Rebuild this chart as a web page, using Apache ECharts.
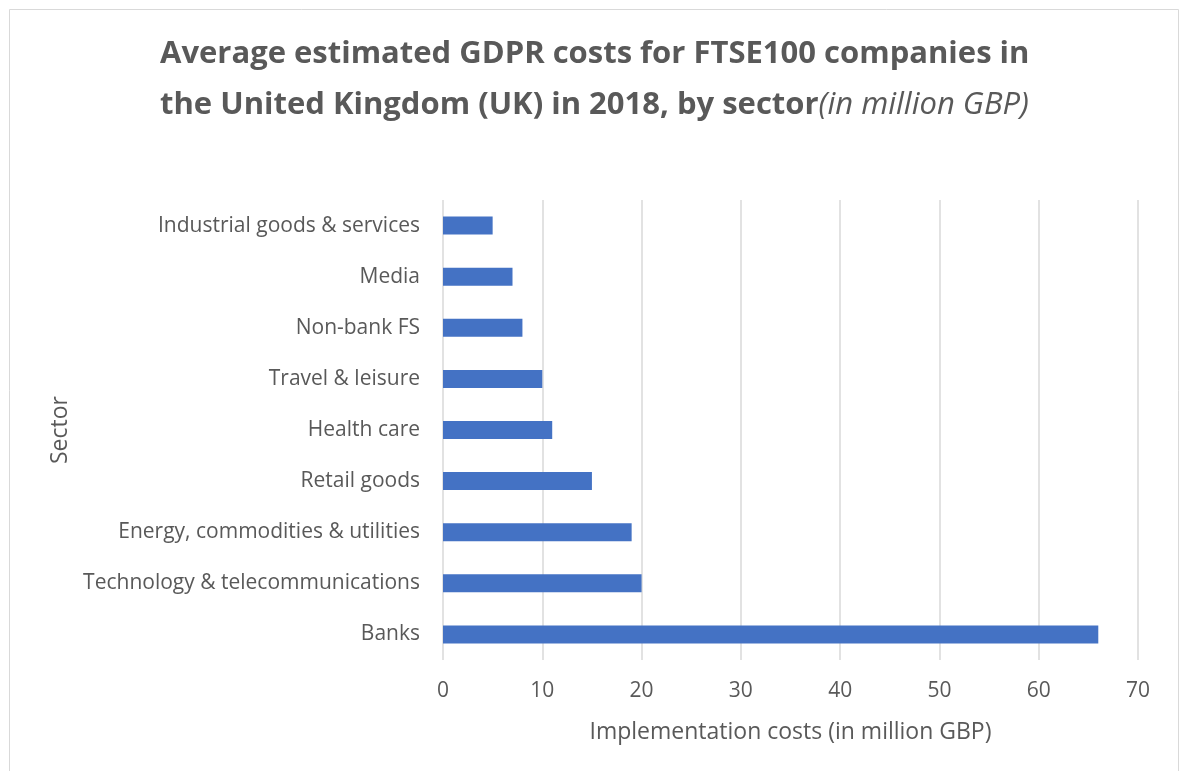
<!DOCTYPE html>
<html>
<head>
<meta charset="utf-8">
<script src="https://cdn.jsdelivr.net/npm/echarts@6/dist/echarts.min.js"></script>
<style>
  html, body { margin: 0; padding: 0; background: #ffffff; }
  #chart { width: 1180px; height: 771px; }
</style>
</head>
<body>
<div id="chart"></div>
<script>
// Sectors listed top to bottom
const sectors = [
  'Industrial goods & services',
  'Media',
  'Non-bank FS',
  'Travel & leisure',
  'Health care',
  'Retail goods',
  'Energy, commodities & utilities',
  'Technology & telecommunications',
  'Banks'
];
// Average implementation cost per sector, million GBP
const costs = [5, 7, 8, 10, 11, 15, 19, 20, 66];
const xTicks = [0, 10, 20, 30, 40, 50, 60, 70];

const textGray = '#595959';
const gridGray = '#d9d9d9';
const font = '"Open Sans", Lato, sans-serif';

const chart = echarts.init(document.getElementById('chart'));
chart.setOption({
  backgroundColor: '#ffffff',
  animation: false,
  graphic: [{
    type: 'rect',
    shape: { x: 9.5, y: 9.5, width: 1169, height: 800 },
    style: { fill: 'none', stroke: gridGray, lineWidth: 1 },
    silent: true
  }],
  title: {
    left: 155,
    top: 24,
    textAlign: 'left',
    text: '{b|Average estimated GDPR costs for FTSE100 companies in}\n{b|the United Kingdom (UK) in 2018, by sector}{i|(in million GBP)}',
    textStyle: {
      align: 'center',
      rich: {
        b: { fontFamily: font, fontSize: 31, fontWeight: 'bold', color: textGray, lineHeight: 51 },
        i: { fontFamily: font, fontSize: 31, fontStyle: 'italic', fontWeight: 'normal', color: textGray, lineHeight: 51 }
      }
    }
  },
  grid: { left: 443, right: 42, top: 200, bottom: 111 },
  xAxis: {
    type: 'value',
    min: xTicks[0],
    max: xTicks[xTicks.length - 1],
    interval: 10,
    name: 'Implementation costs (in million GBP)',
    nameLocation: 'middle',
    nameGap: 61,
    nameTextStyle: { fontFamily: font, fontSize: 23, color: textGray },
    axisLine: { show: false },
    axisTick: { show: false },
    axisLabel: { fontFamily: font, fontSize: 21, color: textGray, margin: 21 },
    splitLine: { show: true, lineStyle: { color: gridGray, width: 1.5 } }
  },
  yAxis: {
    type: 'category',
    data: sectors,
    inverse: true,
    name: 'Sector',
    nameLocation: 'middle',
    nameGap: 371,
    nameRotate: 90,
    nameTextStyle: { fontFamily: font, fontSize: 23, color: textGray },
    axisLine: { show: false },
    axisTick: { show: false },
    axisLabel: { fontFamily: font, fontSize: 21, color: textGray, margin: 23, padding: [2, 0, 0, 0] }
  },
  series: [{
    type: 'bar',
    data: costs,
    barWidth: 18,
    itemStyle: { color: '#4472c4' }
  }]
});
</script>
</body>
</html>
